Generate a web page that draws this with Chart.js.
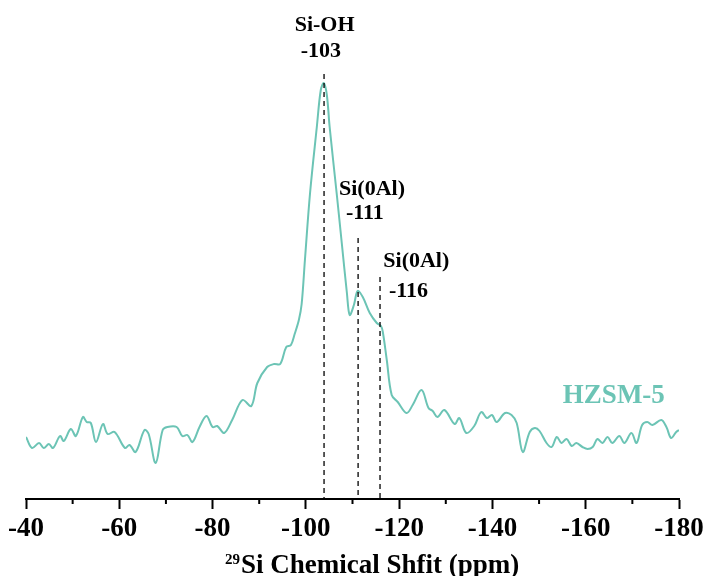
<!DOCTYPE html>
<html>
<head>
<meta charset="utf-8">
<script src="https://cdn.jsdelivr.net/npm/chart.js@4.4.1/dist/chart.umd.min.js"></script>
<style>
  html, body { margin: 0; padding: 0; background: #ffffff; }
  #wrap { width: 710px; height: 576px; }
</style>
</head>
<body>
<div id="wrap"><canvas id="c" width="710" height="576"></canvas></div>
<script>
// ---- data ----
const shifts = [
  -40.0,-41.3,-42.8,-43.8,-44.9,-45.8,-47.3,-48.1,-49.6,-50.7,
  -52.2,-53.0,-53.9,-55.0,-56.5,-57.5,-59.0,-61.2,-62.2,-63.5,
  -65.4,-66.3,-67.8,-69.3,-70.3,-72.3,-73.5,-74.6,-75.7,-77.2,
  -78.7,-80.0,-81.0,-82.5,-84.2,-86.4,-88.3,-89.6,-91.7,-93.2,
  -94.5,-95.8,-96.8,-97.6,-98.5,-99.1,-99.8,-100.9,-102.35,-103.2,
  -103.85,-104.5,-105.1,-106.6,-107.7,-108.8,-109.4,-110.3,-111.1,-112.2,
  -113.7,-115.2,-116.1,-116.5,-117.35,-118.4,-119.7,-121.6,-122.9,-124.8,
  -126.3,-127.2,-128.2,-129.7,-131.9,-132.9,-134.4,-136.1,-137.6,-138.8,
  -139.9,-140.9,-142.7,-144.1,-145.2,-146.5,-148.0,-149.1,-150.1,-151.6,
  -152.7,-153.8,-154.8,-155.9,-157.0,-158.0,-159.3,-160.4,-161.5,-162.5,
  -163.6,-164.7,-165.7,-167.2,-168.3,-169.8,-170.9,-172.1,-173.2,-174.3,
  -176.2,-177.3,-178.3,-179.4,-180.0
];
const intensity = [
  63,52,57,52,56,52,64,59,71,64,
  83,78,77,58,76,66,68,52,55,48,
  70,66,37,70,73,73,64,65,58,73,
  84,73,74,67,80,100,94,117,133,136,
  136,153,155,166,180,196,240,307,373,410,
  417,405,373,307,257,207,185,195,209,203,
  187,177,174,168,140,105,98,87,95,110,
  92,89,83,90,76,82,67,74,88,82,
  85,78,87,85,77,48,68,72,69,57,
  53,63,57,61,54,57,53,51,53,61,
  57,63,57,64,57,67,57,75,78,75,
  80,73,62,68,70
];
const majorTicks = [-40,-60,-80,-100,-120,-140,-160,-180];
const minorTicks = [-50,-70,-90,-110,-130,-150,-170];
const peakShifts = [-103.9, -111.2, -115.9];
const peakLineTops = [426, 262, 223];
const peakNames = ['Si-OH', 'Si(0Al)', 'Si(0Al)'];
const peakValues = ['-103', '-111', '-116'];
const seriesName = 'HZSM-5';

// annotation anchors (axis units)
const nameAnchors = [[-97.6, 469], [-107.1, 305], [-116.6, 233]];
const valueAnchors = [[-98.9, 443.5], [-108.6, 281], [-117.8, 203]];
const seriesLabelAnchor = [-155.1, 97];

const TEAL = '#6cc4b5';
const SERIF = '"Liberation Serif", "Times New Roman", serif';

const points = shifts.map((s, i) => ({ x: s, y: intensity[i] }));

const decorPlugin = {
  id: 'decor',
  beforeDraw(chart) {
    const ctx = chart.ctx;
    ctx.save();
    ctx.fillStyle = '#ffffff';
    ctx.fillRect(0, 0, chart.width, chart.height);
    ctx.restore();
  },
  afterDraw(chart) {
    const ctx = chart.ctx;
    const xs = chart.scales.x, ys = chart.scales.y;
    const bottom = chart.chartArea.bottom;
    ctx.save();
    // dashed peak lines
    ctx.strokeStyle = '#000';
    ctx.lineWidth = 1.3;
    ctx.setLineDash([5, 4]);
    peakShifts.forEach((p, i) => {
      const px = xs.getPixelForValue(p);
      ctx.beginPath();
      ctx.moveTo(px, ys.getPixelForValue(peakLineTops[i]));
      ctx.lineTo(px, bottom);
      ctx.stroke();
    });
    ctx.setLineDash([]);
    // minor ticks
    ctx.lineWidth = 2;
    minorTicks.forEach(t => {
      const px = xs.getPixelForValue(t);
      ctx.beginPath();
      ctx.moveTo(px, bottom);
      ctx.lineTo(px, bottom + 5);
      ctx.stroke();
    });
    // peak labels
    ctx.fillStyle = '#000';
    ctx.textAlign = 'left';
    ctx.textBaseline = 'alphabetic';
    ctx.font = 'bold 22px ' + SERIF;
    peakNames.forEach((n, i) => {
      ctx.fillText(n, xs.getPixelForValue(nameAnchors[i][0]), ys.getPixelForValue(nameAnchors[i][1]));
      ctx.fillText(peakValues[i], xs.getPixelForValue(valueAnchors[i][0]), ys.getPixelForValue(valueAnchors[i][1]));
    });
    // series label
    ctx.fillStyle = TEAL;
    ctx.font = 'bold 27px ' + SERIF;
    ctx.fillText(seriesName, xs.getPixelForValue(seriesLabelAnchor[0]), ys.getPixelForValue(seriesLabelAnchor[1]));
    // axis title with superscript
    ctx.fillStyle = '#000';
    const tx = 225, tb = 573;
    ctx.font = 'bold 15px ' + SERIF;
    ctx.fillText('29', tx, tb - 9);
    const w = ctx.measureText('29').width;
    ctx.font = 'bold 27px ' + SERIF;
    ctx.fillText('Si Chemical Shfit (ppm)', tx + w + 1, tb);
    ctx.restore();
  }
};

new Chart(document.getElementById('c'), {
  type: 'line',
  data: {
    datasets: [{
      label: seriesName,
      data: points,
      borderColor: TEAL,
      borderWidth: 2,
      pointRadius: 0,
      fill: false,
      tension: 0.35
    }]
  },
  options: {
    responsive: false,
    animation: false,
    events: [],
    layout: { padding: { left: 26, right: 31, top: 60, bottom: 0 } },
    plugins: { legend: { display: false }, tooltip: { enabled: false } },
    scales: {
      x: {
        type: 'linear',
        min: -180,
        max: -40,
        reverse: true,
        afterBuildTicks(scale) {
          scale.ticks = majorTicks.map(v => ({ value: v }));
        },
        afterFit(scale) { scale.height = 77; },
        border: { display: true, color: '#000', width: 2 },
        grid: { drawOnChartArea: false, drawTicks: true, tickLength: 10, tickWidth: 2, tickColor: '#000' },
        ticks: {
          color: '#000',
          font: { family: SERIF, size: 27, weight: 'bold' },
          padding: 4,
          maxRotation: 0,
          autoSkip: false
        },
        title: { display: false }
      },
      y: {
        display: false,
        min: 1,
        max: 440
      }
    }
  },
  plugins: [decorPlugin]
});
</script>
</body>
</html>
